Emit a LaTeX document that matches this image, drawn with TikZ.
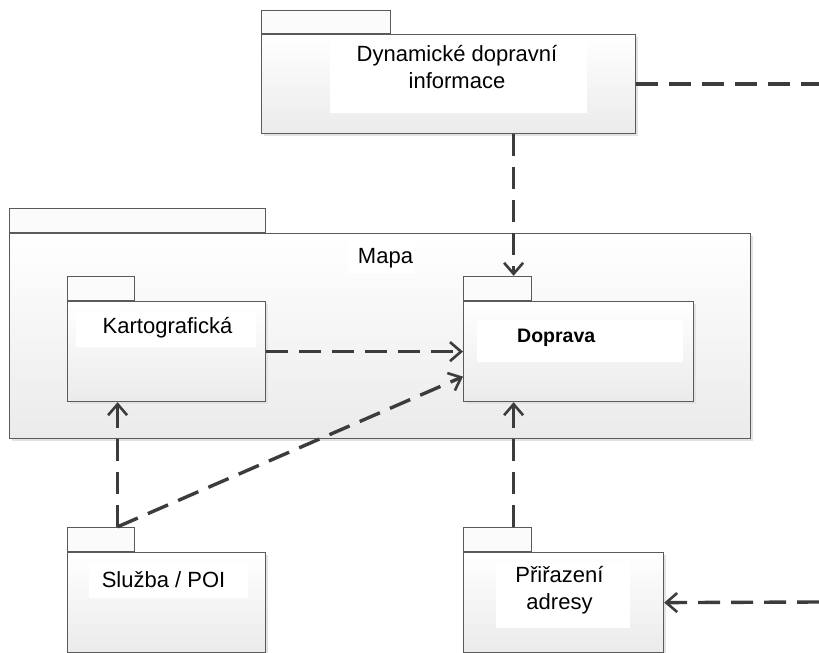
\documentclass[tikz,border=0pt]{standalone}
\usepackage{fontspec}
\setmainfont{Liberation Sans}
\usetikzlibrary{positioning,arrows.meta,shadows}

\definecolor{boxline}{HTML}{5A5A5A}
\definecolor{depline}{HTML}{3C3C3C}

\tikzset{
  pkg/.style={draw=boxline, line width=1.2pt, rectangle, anchor=north west,
    top color=white, bottom color=gray!16,
    general shadow={fill=gray!22, shadow xshift=2pt, shadow yshift=-2pt}},
  pkgtab/.style={draw=boxline, line width=1.2pt, rectangle, anchor=south west,
    fill=gray!3},
  pkgbg/.style={fill=white, inner sep=0pt},
  pkgtxt/.style={inner sep=0pt, align=center, anchor=base,
    font=\fontsize{22}{26.5}\selectfont},
  dep/.style={draw=depline, line width=3.4pt, dash pattern=on 22pt off 11pt,
    -{Straight Barb[length=11pt,width=19pt,line width=2.6pt]}}
}

\begin{document}
\begin{tikzpicture}[x=1pt,y=-1pt]
	\useasboundingbox[fill=white] (0,0) rectangle (819,653);
	% packages
	\node[pkg, minimum width=741pt, minimum height=205pt] (map) at (9,233) {};
	\node[pkgtab, minimum width=256pt, minimum height=24pt] (map tab) at (map.north west) {};
	\node[pkgbg, minimum width=67pt, minimum height=36pt] (map bg) at (381.5,255) {};
	\node[pkgtxt] (map lbl) at (385.5,263) {Mapa};

	\node[pkg, minimum width=374pt, minimum height=99pt] (dyn) at (261,34) {};
	\node[pkgtab, minimum width=129pt, minimum height=23pt] (dyn tab) at (dyn.north west) {};
	\node[pkgbg, minimum width=257pt, minimum height=73pt] (dyn bg) at (458.5,76.5) {};
	\node[pkgtxt] (dyn lbl) at (457,88) {Dynamické dopravní\\informace};

	\node[pkg, minimum width=198pt, minimum height=100pt] (kart) at (67,301) {};
	\node[pkgtab, minimum width=67pt, minimum height=24pt] (kart tab) at (kart.north west) {};
	\node[pkgbg, minimum width=180pt, minimum height=35pt] (kart bg) at (166,329.5) {};
	\node[pkgtxt] (kart lbl) at (167.5,333) {Kartografická};

	\node[pkg, minimum width=230pt, minimum height=100pt] (dop) at (463,301) {};
	\node[pkgtab, minimum width=68pt, minimum height=24pt] (dop tab) at (dop.north west) {};
	\node[pkgbg, minimum width=206pt, minimum height=42pt] (dop bg) at (580,341) {};
	\node[pkgtxt, anchor=base west, font=\fontsize{19.5}{24}\selectfont\bfseries] (dop lbl) at (517,342) {Doprava};

	\node[pkg, minimum width=198pt, minimum height=100pt] (sl) at (67,552) {};
	\node[pkgtab, minimum width=67pt, minimum height=24pt] (sl tab) at (sl.north west) {};
	\node[pkgbg, minimum width=159pt, minimum height=35pt] (sl bg) at (168.5,580.5) {};
	\node[pkgtxt] (sl lbl) at (163.5,587) {Služba / POI};

	\node[pkg, minimum width=200pt, minimum height=100pt] (prir) at (463,552) {};
	\node[pkgtab, minimum width=68pt, minimum height=24pt] (prir tab) at (prir.north west) {};
	\node[pkgbg, minimum width=134pt, minimum height=66pt] (prir bg) at (563,595) {};
	\node[pkgtxt] (prir lbl) at (559.5,609) {Přiřazení\\adresy};

	% connector ends
	\coordinate (dop top) at ([xshift=16pt]dop tab.north);
	\coordinate (prir top) at ([xshift=16pt]prir tab.north);
	\coordinate (sl top) at ([xshift=16.5pt]sl tab.north);
	\coordinate (dyn out) at (819,84);
	\coordinate (prir in) at (819,602);

	% dependencies
	\draw[dep, -] (dyn.east |- dyn out) -- (dyn out);
	\draw[dep] (dyn.south -| dop top) -- (dop top);
	\draw[dep] (kart.east) -- (dop.west);
	\draw[dep] (sl top) -- ([yshift=-25pt]dop.west);
	\draw[dep] (sl top) -- (kart.south -| sl top);
	\draw[dep] (prir top) -- (dop.south -| prir top);
	\draw[dep] (prir in) -- (prir.east);
\end{tikzpicture}
\end{document}
